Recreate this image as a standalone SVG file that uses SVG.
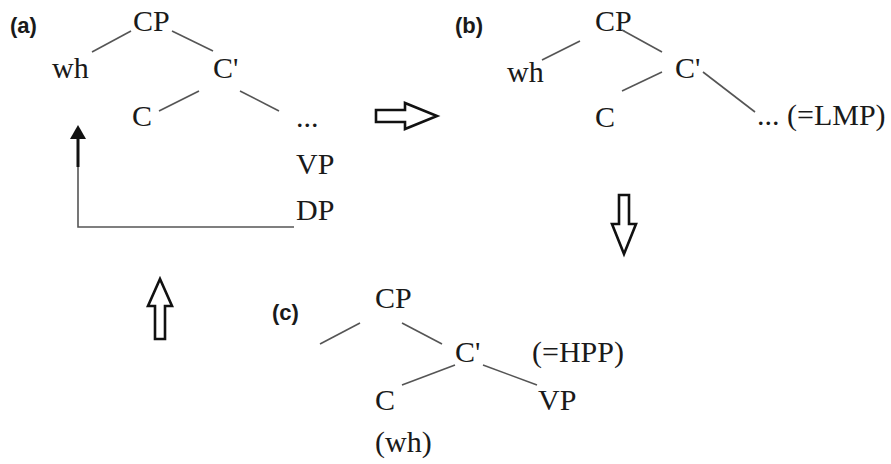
<svg xmlns="http://www.w3.org/2000/svg" width="891" height="464" viewBox="0 0 891 464">
<style>
.t{font-family:"Liberation Serif","Times New Roman",serif;font-size:30px;fill:#1a1a1a}
.lab{font-family:"Liberation Sans",Arial,sans-serif;font-size:22px;font-weight:bold;fill:#1a1a1a}
.e{stroke:#555;stroke-width:1.6;fill:none}
.big{fill:#fff;stroke:#111;stroke-width:2.6;stroke-linejoin:miter}
</style>
<rect width="891" height="464" fill="#fff"/>
<text class="lab" x="10" y="33">(a)</text>
<text class="lab" x="455" y="33">(b)</text>
<text class="lab" x="272" y="320">(c)</text>
<g id="a-nodes">
<g id="a-CP"><text class="t" x="133" y="31">CP</text></g>
<g id="a-wh"><text class="t" x="52" y="78">wh</text></g>
<g id="a-Cbar"><text class="t" x="213" y="78">C'</text></g>
<g id="a-C"><text class="t" x="132" y="126">C</text></g>
<g id="a-dots"><text class="t" x="296" y="127">...</text></g>
<g id="a-VP"><text class="t" x="296" y="174">VP</text></g>
<g id="a-DP"><text class="t" x="296" y="220">DP</text></g>
</g>
<g id="b-nodes">
<g id="b-CP"><text class="t" x="595" y="31">CP</text></g>
<g id="b-wh"><text class="t" x="507" y="82">wh</text></g>
<g id="b-Cbar"><text class="t" x="675" y="78">C'</text></g>
<g id="b-C"><text class="t" x="595" y="127">C</text></g>
<g id="b-LMP"><text class="t" x="757" y="125">... (=LMP)</text></g>
</g>
<g id="c-nodes">
<g id="c-CP"><text class="t" x="375" y="308">CP</text></g>
<g id="c-Cbar"><text class="t" x="455" y="362">C'</text></g>
<g id="c-HPP"><text class="t" x="532" y="362">(=HPP)</text></g>
<g id="c-C"><text class="t" x="375" y="410">C</text></g>
<g id="c-VP"><text class="t" x="538" y="410">VP</text></g>
<g id="c-wh"><text class="t" x="375" y="452">(wh)</text></g>
</g>
<g id="connectors">
<line class="e" x1="92" y1="52" x2="131" y2="31"/>
<line class="e" x1="172" y1="31" x2="213" y2="51"/>
<line class="e" x1="199" y1="91" x2="159" y2="111"/>
<line class="e" x1="240" y1="91" x2="279" y2="111"/>
<line class="e" x1="542" y1="60" x2="580" y2="41"/>
<line class="e" x1="622" y1="30" x2="662" y2="52"/>
<line class="e" x1="662" y1="72" x2="622" y2="91"/>
<line class="e" x1="703" y1="72" x2="755" y2="112"/>
<line class="e" x1="320" y1="344" x2="360" y2="323"/>
<line class="e" x1="402" y1="323" x2="442" y2="344"/>
<line class="e" x1="455" y1="365" x2="402" y2="385"/>
<line class="e" x1="483" y1="365" x2="537" y2="385"/>
<polyline class="e" points="294,227 78,227 78,166"/>
<line x1="78" y1="167" x2="78" y2="137" stroke="#111" stroke-width="3"/>
<polygon points="70,139 86,139 78,125" fill="#111"/>
<polygon class="big" points="376,110 405,110 405,103 437,116 405,129 405,122 376,122"/>
<polygon class="big" points="619,195 629,195 629,224 636,224 624,254 612,224 619,224"/>
<polygon class="big" points="155,339 165,339 165,306 172,306 160,279 148,306 155,306"/>
</g>
</svg>
